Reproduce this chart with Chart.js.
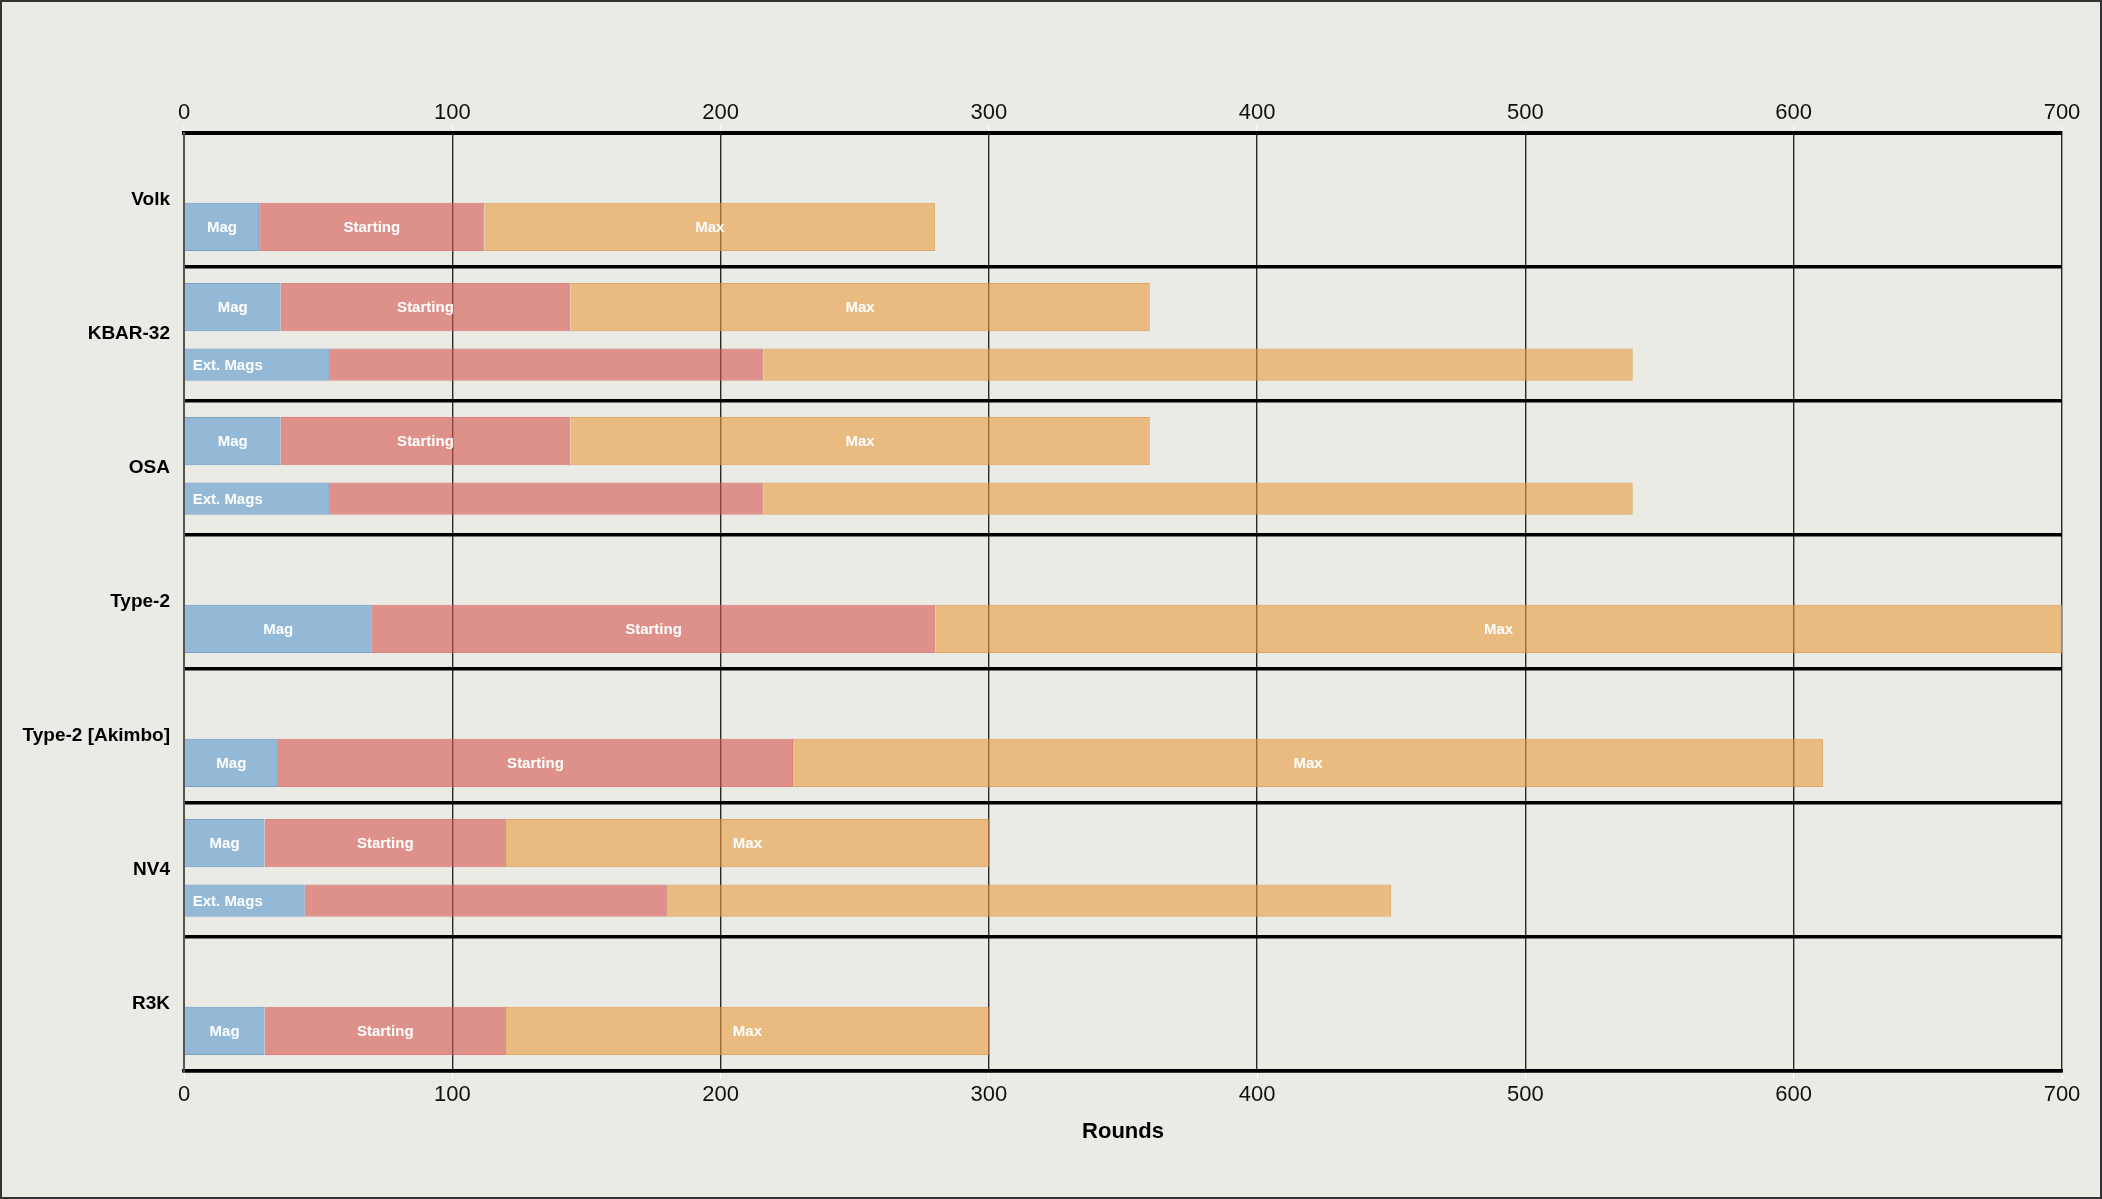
<!DOCTYPE html>
<html>
<head>
<meta charset="utf-8">
<script src="https://cdn.jsdelivr.net/npm/chart.js@4"></script>
<style>
  html, body { margin: 0; padding: 0; background: #ebebe6; }
  #wrap { box-sizing: border-box; width: 2102px; height: 1199px; border: 2px solid #333; position: relative; background: #ebebe6; }
  #wrap canvas { display: block; }
</style>
</head>
<body>
<div id="wrap"><canvas id="c" width="2098" height="1195"></canvas></div>
<script>
// ---- data ----
const weapons = ['Volk', 'KBAR-32', 'OSA', 'Type-2', 'Type-2 [Akimbo]', 'NV4', 'R3K'];
const magRounds      = [28, 36, 36, 70, 35, 30, 30];
const startingRounds = [112, 144, 144, 280, 227, 120, 120];
const maxRounds      = [280, 360, 360, 700, 611, 300, 300];
const extMagRounds      = [null, 54, 54, null, null, 45, null];
const extStartingRounds = [null, 216, 216, null, null, 180, null];
const extMaxRounds      = [null, 540, 540, null, null, 450, null];
const segmentLabels = ['Mag', 'Starting', 'Max'];
const extLabel = 'Ext. Mags';
const xTicks = [0, 100, 200, 300, 400, 500, 600, 700];
const axisTitle = 'Rounds';

// ---- styles ----
const FONT = 'Arial, "Liberation Sans", Helvetica, sans-serif';
const fills   = ['rgba(88,152,205,0.6)', 'rgba(212,85,77,0.6)', 'rgba(232,155,60,0.6)'];
const borders = ['rgba(80,135,185,0.75)', 'rgba(215,95,88,0.75)', 'rgba(220,150,70,0.8)'];

const hasExt = extMagRounds.map(v => v !== null);
function seg(lo, hi, mask) {
  return weapons.map((_, i) => mask(i) ? [lo ? lo[i] : 0, hi[i]] : null);
}
const segBounds = [[null, magRounds], [magRounds, startingRounds], [startingRounds, maxRounds]];
const extBounds = [[null, extMagRounds], [extMagRounds, extStartingRounds], [extStartingRounds, extMaxRounds]];

const datasets = [];
// top slot: main bar for weapons with extended mags
segBounds.forEach((b, k) => datasets.push({
  label: segmentLabels[k], stack: 'top', data: seg(b[0], b[1], i => hasExt[i]),
  backgroundColor: fills[k], borderColor: borders[k], borderWidth: 1, barPercentage: 0.9, categoryPercentage: 0.8,
  _txt: segmentLabels[k], _align: 'center'
}));
// bottom slot: main bar for weapons without extended mags
segBounds.forEach((b, k) => datasets.push({
  label: segmentLabels[k], stack: 'bottom', data: seg(b[0], b[1], i => !hasExt[i]),
  backgroundColor: fills[k], borderColor: borders[k], borderWidth: 1, barPercentage: 0.9, categoryPercentage: 0.8,
  _txt: segmentLabels[k], _align: 'center'
}));
// bottom slot: extended mags bar
extBounds.forEach((b, k) => datasets.push({
  label: k === 0 ? extLabel : segmentLabels[k], stack: 'bottom', data: seg(b[0], b[1], i => hasExt[i]),
  backgroundColor: fills[k], borderColor: borders[k], borderWidth: 1, barPercentage: 0.525, categoryPercentage: 0.915,
  _txt: k === 0 ? extLabel : null, _align: 'left'
}));

const labelPlugin = {
  id: 'segLabels',
  afterDatasetsDraw(chart) {
    const ctx = chart.ctx;
    ctx.save();
    ctx.fillStyle = '#ffffff';
    ctx.font = 'bold 15px ' + FONT;
    ctx.textBaseline = 'middle';
    chart.data.datasets.forEach((ds, di) => {
      if (!ds._txt) return;
      const meta = chart.getDatasetMeta(di);
      meta.data.forEach((el, i) => {
        if (ds.data[i] === null) return;
        const x0 = Math.min(el.x, el.base), x1 = Math.max(el.x, el.base);
        if (ds._align === 'left') {
          ctx.textAlign = 'left';
          ctx.fillText(ds._txt, x0 + 8, el.y + 1);
        } else {
          ctx.textAlign = 'center';
          ctx.fillText(ds._txt, (x0 + x1) / 2, el.y + 1);
        }
      });
    });
    ctx.restore();
  }
};

new Chart(document.getElementById('c'), {
  type: 'bar',
  data: { labels: weapons, datasets },
  plugins: [labelPlugin],
  options: {
    indexAxis: 'y',
    responsive: false,
    animation: false,
    devicePixelRatio: 1,
    layout: { padding: { top: 0, right: 38, bottom: 0, left: 0 } },
    plugins: { legend: { display: false }, tooltip: { enabled: false } },
    scales: {
      x: {
        position: 'top', type: 'linear', min: 0, max: 700, stacked: false,
        afterFit: s => { s.height = 131; },
        afterBuildTicks: s => { s.ticks = xTicks.map(v => ({ value: v })); },
        ticks: { color: '#111', font: { family: FONT, size: 22 }, padding: 0 },
        grid: { color: '#2a2a2a', lineWidth: 1.4, tickColor: '#ffffff', tickLength: 7, tickWidth: 1 },
        border: { display: true, color: '#000', width: 4 }
      },
      x2: {
        position: 'bottom', type: 'linear', min: 0, max: 700, stacked: false,
        afterFit: s => { s.height = 126; },
        afterBuildTicks: s => { s.ticks = xTicks.map(v => ({ value: v })); },
        ticks: { color: '#111', font: { family: FONT, size: 22 }, padding: 3 },
        grid: { drawOnChartArea: false, tickColor: '#ffffff', tickLength: 8, tickWidth: 1 },
        border: { display: true, color: '#000', width: 3.5 },
        title: { display: true, text: axisTitle, color: '#000', font: { family: FONT, size: 22, weight: 'bold' }, padding: { top: 0, bottom: 52 } }
      },
      y: {
        type: 'category',
        afterFit: s => { s.width = 182; },
        ticks: { color: '#000', font: { family: FONT, size: 19, weight: 'bold' }, padding: 14 },
        grid: { color: '#000', lineWidth: 3.5, drawTicks: false, offset: true },
        border: { display: true, color: '#555', width: 2 }
      }
    }
  }
});
</script>
</body>
</html>
